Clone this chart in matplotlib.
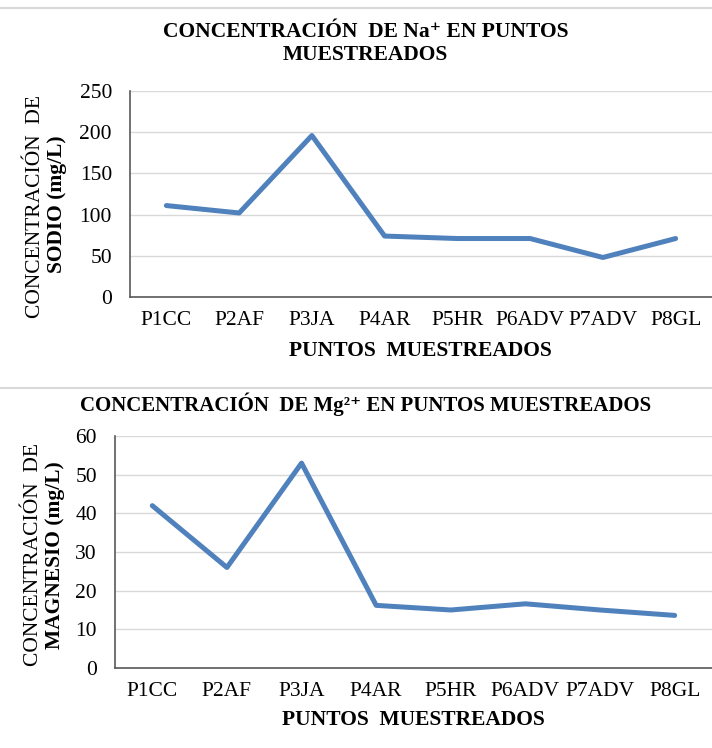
import matplotlib
matplotlib.use("Agg")
import matplotlib.pyplot as plt
import numpy as np

plt.rcParams['font.family'] = ['Liberation Serif', 'DejaVu Serif']

# data
puntos = ["P1CC", "P2AF", "P3JA", "P4AR", "P5HR", "P6ADV", "P7ADV", "P8GL"]
sodio = [111, 102, 196, 74, 71, 71, 48, 71]
magnesio = [42, 26, 53, 16.2, 15, 16.6, 15, 13.6]

linecolor = "#4f81bd"
gridcolor = "#d9d9d9"

fig = plt.figure(figsize=(7.12, 7.48), dpi=100)

def style_ax(ax, ymax, step):
    x = np.arange(len(puntos))
    ax.set_xlim(-0.5, len(puntos) - 0.5)
    ax.set_ylim(0, ymax)
    ax.set_yticks(np.arange(0, ymax + 1, step))
    ax.set_xticks(x)
    ax.set_xticklabels(puntos, fontsize=15.5)
    ax.tick_params(axis='y', labelsize=15.5, length=0, pad=13)
    ax.tick_params(axis='x', length=0, pad=10)
    ax.grid(axis='y', color=gridcolor, linewidth=1.0)
    ax.set_axisbelow(True)
    for s in ['top', 'right']:
        ax.spines[s].set_visible(False)
    for s in ['left', 'bottom']:
        ax.spines[s].set_color('#595959')
        ax.spines[s].set_linewidth(1.2)

# figure 1: sodio
ax1 = fig.add_axes([0.1826, 0.6029, 0.8174, 0.2754])
ax1.plot(np.arange(len(puntos)), sodio, color=linecolor, linewidth=3.6,
         solid_joinstyle='round', solid_capstyle='round')
style_ax(ax1, 250, 50)
fig.text(0.513, 1 - 32/748, "CONCENTRACIÓN  DE Na⁺ EN PUNTOS",
         ha='center', va='center', fontsize=15.5, fontweight='bold')
fig.text(0.513, 1 - 55/748, "MUESTREADOS", ha='center', va='center',
         fontsize=15.5, fontweight='bold')
fig.text(0.59, 1 - 351/748, "PUNTOS  MUESTREADOS", ha='center', va='center',
         fontsize=15.5, fontweight='bold')
fig.text(36/712, 1 - 206/748, "CONCENTRACIÓN  DE", rotation=90,
         ha='center', va='center', fontsize=15.5)
fig.text(57/712, 1 - 204/748, "SODIO (mg/L)", rotation=90,
         ha='center', va='center', fontsize=15.5, fontweight='bold')

# figure 2: magnesio
ax2 = fig.add_axes([0.1615, 0.107, 0.8385, 0.310])
ax2.plot(np.arange(len(puntos)), magnesio, color=linecolor, linewidth=3.6,
         solid_joinstyle='round', solid_capstyle='round')
style_ax(ax2, 60, 10)
fig.text(0.513, 1 - 404/748, "CONCENTRACIÓN  DE Mg²⁺ EN PUNTOS MUESTREADOS",
         ha='center', va='center', fontsize=15, fontweight='bold')
fig.text(0.58, 1 - 720/748, "PUNTOS  MUESTREADOS", ha='center', va='center',
         fontsize=15.5, fontweight='bold')
fig.text(34/712, 1 - 555/748, "CONCENTRACIÓN  DE", rotation=90,
         ha='center', va='center', fontsize=15.5)
fig.text(55/712, 1 - 555/748, "MAGNESIO (mg/L)", rotation=90,
         ha='center', va='center', fontsize=15.5, fontweight='bold')

# separator lines
fig.add_artist(plt.Line2D([0, 1], [1 - 8/748, 1 - 8/748], color=gridcolor, linewidth=1.5))
fig.add_artist(plt.Line2D([0, 1], [1 - 388/748, 1 - 388/748], color=gridcolor, linewidth=1.5))

fig.savefig("out.png", dpi=100, facecolor='white')
